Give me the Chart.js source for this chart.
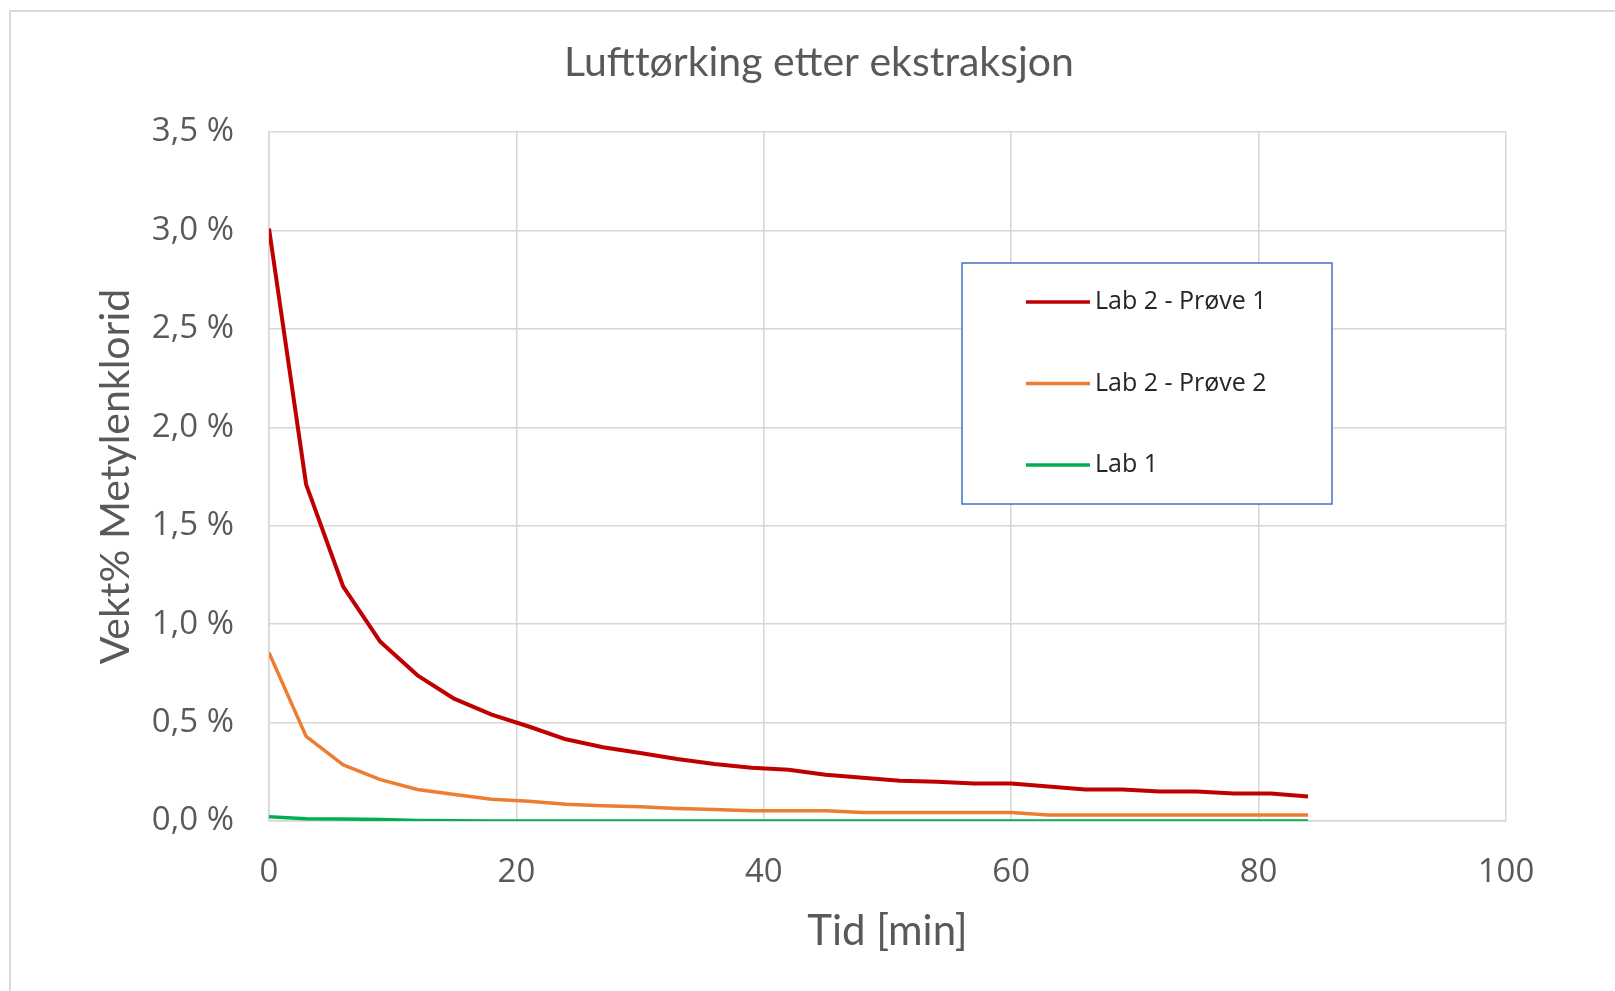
<!DOCTYPE html>
<html lang="no">
<head>
<meta charset="utf-8">
<title>Lufttørking etter ekstraksjon</title>
<script src="https://cdn.jsdelivr.net/npm/chart.js@4.4.1/dist/chart.umd.min.js"></script>
<style>
  html, body { margin: 0; padding: 0; background: #fff; overflow: hidden; }
  #wrap { position: relative; width: 1615px; height: 991px; }
  /* Excel-style chart frame, only the left and top edges fall inside the page */
  #frame { position: absolute; left: 9px; top: 10px; width: 1700px; height: 1100px;
           border-left: 2px solid #d9d9d9; border-top: 2px solid #d9d9d9; }
  #chart { position: absolute; left: 0; top: 0; }
</style>
</head>
<body>
<div id="wrap">
  <div id="frame"></div>
  <canvas id="chart" width="1615" height="991"></canvas>
</div>
<script>
// --- Data ---
const chartTitle = 'Lufttørking etter ekstraksjon';
const xTitle = 'Tid [min]';
const yTitle = 'Vekt% Metylenklorid';

const seriesNames = ['Lab 2 - Prøve 1', 'Lab 2 - Prøve 2', 'Lab 1'];
const seriesColors = ['#C00000', '#ED7D31', '#00B050'];
const seriesWidths = [4, 3.5, 3.5];

// sampling times in minutes
const timeMin = [0, 3, 6, 9, 12, 15, 18, 21, 24, 27, 30, 33, 36, 39, 42,
                 45, 48, 51, 54, 57, 60, 63, 66, 69, 72, 75, 78, 81, 84];

// weight-% methylene chloride
const lab2Sample1 = [3.01, 1.71, 1.19, 0.91, 0.74, 0.62, 0.54, 0.48, 0.415, 0.375,
                     0.345, 0.315, 0.29, 0.27, 0.26, 0.235, 0.22, 0.205, 0.20, 0.19,
                     0.19, 0.175, 0.16, 0.16, 0.15, 0.15, 0.14, 0.14, 0.125];
const lab2Sample2 = [0.855, 0.43, 0.285, 0.21, 0.16, 0.135, 0.11, 0.10, 0.085, 0.077,
                     0.073, 0.064, 0.058, 0.052, 0.052, 0.052, 0.043, 0.043, 0.043, 0.043,
                     0.043, 0.03, 0.03, 0.03, 0.03, 0.03, 0.03, 0.03, 0.03];
const lab1 = [0.022, 0.012, 0.01, 0.008, 0.003, 0.001, 0, 0, 0, 0,
              0, 0, 0, 0, 0, 0, 0, 0, 0, 0,
              0, 0, 0, 0, 0, 0, 0, 0, 0];

const xTicks = [0, 20, 40, 60, 80, 100];
const yTicks = [0, 0.5, 1.0, 1.5, 2.0, 2.5, 3.0, 3.5];

// --- Helpers ---
function toPoints(values) {
    return values.map((v, i) => ({ x: timeMin[i], y: v }));
}

function formatPercent(v) {
    return v.toFixed(1).replace('.', ',') + ' %';
}

const gridColor = '#d6d6d6';
const textColor = '#595959';

// chart title, centred on the whole chart frame rather than the plot
const frameTitle = {
    id: 'frameTitle',
    afterDraw(chart, args, opts) {
        const ctx = chart.ctx;
        ctx.save();
        ctx.font = opts.font;
        ctx.fillStyle = opts.color;
        ctx.textAlign = 'center';
        ctx.textBaseline = 'middle';
        ctx.fillText(opts.text, opts.x, opts.y);
        ctx.restore();
    }
};

// boxed legend sitting inside the plot area
const boxedLegend = {
    id: 'boxedLegend',
    afterDatasetsDraw(chart, args, opts) {
        const ctx = chart.ctx;
        const b = opts.box;
        ctx.save();
        ctx.fillStyle = '#ffffff';
        ctx.fillRect(b.left, b.top, b.width, b.height);
        ctx.strokeStyle = opts.borderColor;
        ctx.lineWidth = opts.borderWidth;
        ctx.strokeRect(b.left, b.top, b.width, b.height);

        ctx.font = opts.font;
        ctx.textAlign = 'left';
        ctx.textBaseline = 'middle';
        chart.data.datasets.forEach((ds, i) => {
            const y = opts.firstRowY + i * opts.rowGap;
            ctx.strokeStyle = ds.borderColor;
            ctx.lineWidth = 3.5;
            ctx.beginPath();
            ctx.moveTo(opts.lineX, y);
            ctx.lineTo(opts.lineX + opts.lineLength, y);
            ctx.stroke();
            ctx.fillStyle = opts.color;
            ctx.fillText(ds.label, opts.lineX + opts.lineLength + 5, y);
        });
        ctx.restore();
    }
};

const ctx = document.getElementById('chart').getContext('2d');

new Chart(ctx, {
    type: 'line',
    data: {
        datasets: [
            { label: seriesNames[0], data: toPoints(lab2Sample1), borderColor: seriesColors[0], borderWidth: seriesWidths[0] },
            { label: seriesNames[1], data: toPoints(lab2Sample2), borderColor: seriesColors[1], borderWidth: seriesWidths[1] },
            { label: seriesNames[2], data: toPoints(lab1), borderColor: seriesColors[2], borderWidth: seriesWidths[2], clip: 0 }
        ].map(ds => Object.assign(ds, {
            pointRadius: 0,
            tension: 0,
            fill: false,
            borderJoinStyle: 'round'
        }))
    },
    options: {
        responsive: false,
        animation: false,
        devicePixelRatio: 1,
        layout: { padding: { left: 0, right: 109, top: 132, bottom: 0 } },
        plugins: {
            legend: { display: false },
            tooltip: { enabled: false },
            frameTitle: {
                text: chartTitle,
                font: '41px Lato',
                color: textColor,
                x: 819,
                y: 63
            },
            boxedLegend: {
                box: { left: 962, top: 263, width: 370, height: 241 },
                borderColor: '#4472C4',
                borderWidth: 1.5,
                font: '25px "Open Sans"',
                color: '#262626',
                lineX: 1026,
                lineLength: 64,
                firstRowY: 302,
                rowGap: 81.5
            }
        },
        scales: {
            x: {
                type: 'linear',
                min: 0,
                max: 100,
                afterBuildTicks: scale => { scale.ticks = xTicks.map(v => ({ value: v })); },
                afterFit: scale => { scale.height = 170; },
                grid: { color: gridColor, lineWidth: 1.5, drawTicks: false },
                border: { color: gridColor, width: 1.5 },
                ticks: {
                    color: textColor,
                    padding: 32,
                    font: { family: 'Open Sans', size: 33 }
                },
                title: {
                    display: true,
                    text: xTitle,
                    color: textColor,
                    font: { family: 'Lato', size: 42 },
                    padding: { top: 0, bottom: 34 }
                }
            },
            y: {
                type: 'linear',
                min: 0,
                max: 3.5,
                afterBuildTicks: scale => { scale.ticks = yTicks.map(v => ({ value: v })); },
                afterFit: scale => { scale.width = 269; },
                grid: { color: gridColor, lineWidth: 1.5, drawTicks: false },
                border: { color: gridColor, width: 1.5 },
                ticks: {
                    color: textColor,
                    padding: 35,
                    font: { family: 'Open Sans', size: 33 },
                    callback: v => formatPercent(v)
                },
                title: {
                    display: true,
                    text: yTitle,
                    color: textColor,
                    font: { family: 'Lato', size: 41 },
                    padding: { top: 91, bottom: 0 }
                }
            }
        }
    },
    plugins: [frameTitle, boxedLegend]
});
</script>
</body>
</html>
